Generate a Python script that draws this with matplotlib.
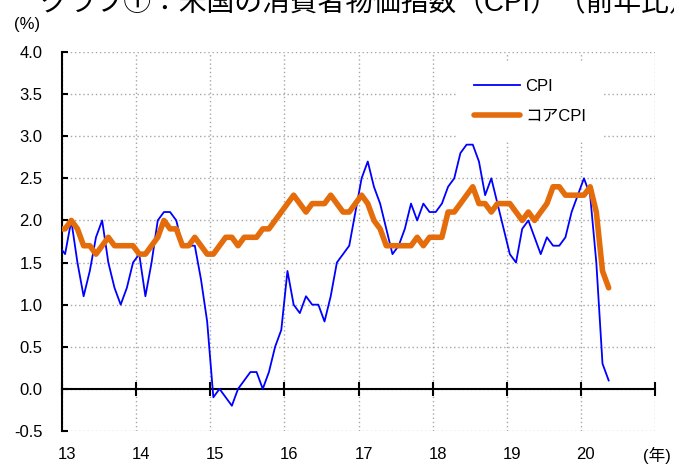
import matplotlib
matplotlib.use("Agg")
import matplotlib.pyplot as plt
import matplotlib.transforms as mtransforms
import numpy as np

plt.rcParams['font.family'] = ['Liberation Sans', 'Noto Sans CJK JP', 'DejaVu Sans']

# monthly y/y (%), Dec 2012 .. May 2020
cpi = [1.7,
       1.6, 2.0, 1.5, 1.1, 1.4, 1.8, 2.0, 1.5, 1.2, 1.0, 1.2, 1.5,
       1.6, 1.1, 1.5, 2.0, 2.1, 2.1, 2.0, 1.7, 1.7, 1.7, 1.3, 0.8,
       -0.1, 0.0, -0.1, -0.2, 0.0, 0.1, 0.2, 0.2, 0.0, 0.2, 0.5, 0.7,
       1.4, 1.0, 0.9, 1.1, 1.0, 1.0, 0.8, 1.1, 1.5, 1.6, 1.7, 2.1,
       2.5, 2.7, 2.4, 2.2, 1.9, 1.6, 1.7, 1.9, 2.2, 2.0, 2.2, 2.1,
       2.1, 2.2, 2.4, 2.5, 2.8, 2.9, 2.9, 2.7, 2.3, 2.5, 2.2, 1.9,
       1.6, 1.5, 1.9, 2.0, 1.8, 1.6, 1.8, 1.7, 1.7, 1.8, 2.1, 2.3,
       2.5, 2.3, 1.5, 0.3, 0.1]
core = [1.9,
        1.9, 2.0, 1.9, 1.7, 1.7, 1.6, 1.7, 1.8, 1.7, 1.7, 1.7, 1.7,
        1.6, 1.6, 1.7, 1.8, 2.0, 1.9, 1.9, 1.7, 1.7, 1.8, 1.7, 1.6,
        1.6, 1.7, 1.8, 1.8, 1.7, 1.8, 1.8, 1.8, 1.9, 1.9, 2.0, 2.1,
        2.2, 2.3, 2.2, 2.1, 2.2, 2.2, 2.2, 2.3, 2.2, 2.1, 2.1, 2.2,
        2.3, 2.2, 2.0, 1.9, 1.7, 1.7, 1.7, 1.7, 1.7, 1.8, 1.7, 1.8,
        1.8, 1.8, 2.1, 2.1, 2.2, 2.3, 2.4, 2.2, 2.2, 2.1, 2.2, 2.2,
        2.2, 2.1, 2.0, 2.1, 2.0, 2.1, 2.2, 2.4, 2.4, 2.3, 2.3, 2.3,
        2.3, 2.4, 2.1, 1.4, 1.2]
years = ['13', '14', '15', '16', '17', '18', '19', '20', '']

# points sit in the middle of each month
x = np.arange(len(cpi)) - 1 + 0.5

fig = plt.figure(figsize=(6.74, 4.65), dpi=100)
ax = fig.add_axes([62/674, 1-431/465, 593/674, 379/465])

ax.plot(x, cpi, color='#0000FF', lw=1.3, label='CPI', zorder=3)
ax.plot(x, core, color='#E46C0A', lw=4, label='コアCPI', zorder=4,
        solid_capstyle='round', solid_joinstyle='round')

ax.set_xlim(0, 96)
ax.set_ylim(-0.5, 4.0)

ax.set_yticks(np.arange(-0.5, 4.01, 0.5))
ax.set_yticklabels(['%.1f' % v for v in np.arange(-0.5, 4.01, 0.5)])
ax.set_xticks(np.arange(0, 97, 12))
ax.set_xticklabels(years)

ax.grid(True, color='#A6A6A6', linestyle=(0, (1, 2)), lw=1, zorder=0)
ax.set_axisbelow(True)

for s in ['top', 'right']:
    ax.spines[s].set_visible(False)
ax.spines['bottom'].set_position(('data', 0))
ax.spines['bottom'].set_linewidth(1.5)
ax.spines['left'].set_linewidth(1.5)

ax.tick_params(axis='y', direction='in', length=4, width=1.5, pad=14, labelsize=12)
ax.tick_params(axis='x', direction='inout', length=10, width=1.5, pad=37, labelsize=12)

off = mtransforms.ScaledTranslation(0.05, 0, fig.dpi_scale_trans)
for lab in ax.get_xticklabels():
    lab.set_transform(lab.get_transform() + off)

leg = ax.legend(loc='upper left', bbox_to_anchor=(0.652, 0.995), fontsize=12,
                frameon=True, facecolor='white', edgecolor='none', framealpha=1,
                borderpad=1.0, handlelength=2.8, handletextpad=0.3, labelspacing=0.9,
                fancybox=False)

fig.text(40/674, 1-11/465, 'グラフ①：米国の消費者物価指数（CPI）（前年比）',
         fontsize=20, ha='left', va='baseline')
fig.text(27/674, 1-24/465, '(%)', fontsize=12, ha='center', va='center')
fig.text(657/674, 1-455/465, '(年)', fontsize=12, ha='center', va='center')

fig.savefig('out.png', dpi=100)
